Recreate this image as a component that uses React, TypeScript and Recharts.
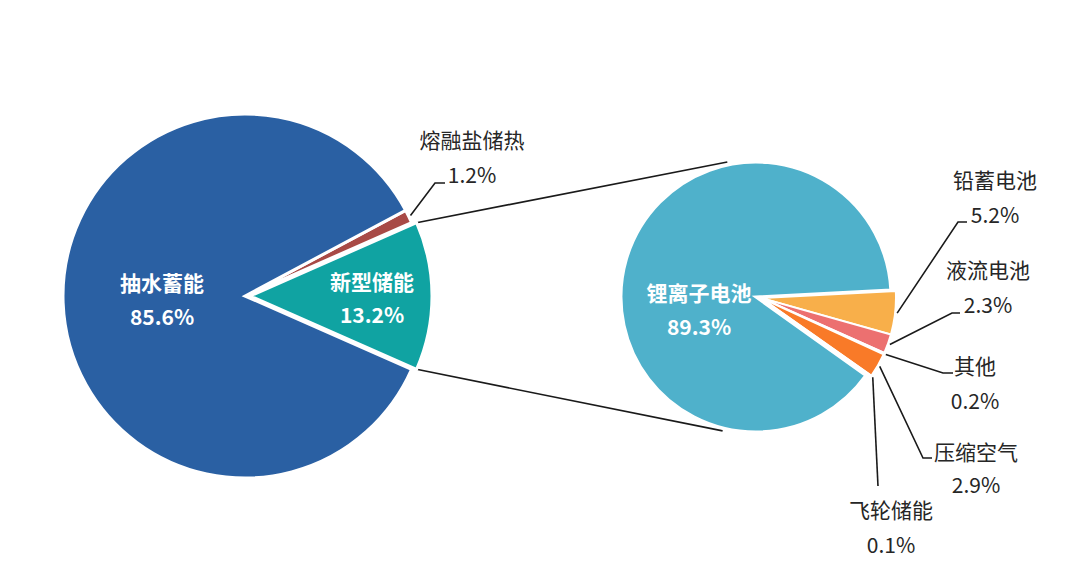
import { PieChart, Pie, Cell, Customized } from "recharts"

// left pie: storage types
const mainNames = ["新型储能", "熔融盐储热", "抽水蓄能"]
const mainValues = [13.2, 1.2, 85.6]
const mainColors = ["#10A3A2", "#A84A46", "#2A60A3"]

// right pie: breakdown of 新型储能
const subNames = ["铅蓄电池", "液流电池", "其他", "压缩空气", "飞轮储能", "锂离子电池"]
const subValues = [5.2, 2.3, 0.2, 2.9, 0.1, 89.3]
const subColors = ["#F8AF4A", "#EC7070", "#E85A4F", "#F97A28", "#F26B2A", "#4FB1CB"]

const mainData = mainNames.map((name, i) => ({ name, value: mainValues[i] }))
const subData = subNames.map((name, i) => ({ name, value: subValues[i] }))

const L = { cx: 245, cy: 296, r: 182 }
const R = { cx: 756, cy: 297, r: 135 }
const EXPLODE_L = { dx: 5, dy: 0 }
const EXPLODE_R = { dx: 5, dy: 1 }

const LEFT_START = -(mainValues[0] / 100) * 180
const RIGHT_START = 3

const TEXT = "#262626"
const FONT = "'Noto Sans CJK SC', 'Noto Sans', sans-serif"

// label layout, offsets relative to the pie centre
type Outside = { elbow: [number, number]; end: [number, number]; tx: number; ny: number; py: number }
type Inside = { tx: number; ny: number; py: number }

const outsideLayout: Record<string, Outside> = {
  "熔融盐储热": { elbow: [190, -113], end: [200, -113], tx: 227, ny: -148, py: -113 },
  "铅蓄电池": { elbow: [197, -76], end: [206, -76], tx: 234, ny: -110, py: -75 },
  "液流电池": { elbow: [191, 15], end: [199, 15], tx: 227, ny: -20, py: 15 },
  "其他": { elbow: [182, 75], end: [192, 75], tx: 214, ny: 76, py: 111 },
  "压缩空气": { elbow: [162, 160], end: [171, 160], tx: 215, ny: 162, py: 195 },
  "飞轮储能": { elbow: [117, 188], end: [117, 188], tx: 130, ny: 220, py: 255 },
}

const insideLayout: Record<string, Inside> = {
  "抽水蓄能": { tx: -83, ny: -5, py: 29 },
  "新型储能": { tx: 122, ny: -6, py: 27 },
  "锂离子电池": { tx: -57, ny: 4, py: 38 },
}

const RAD = Math.PI / 180

function makeLabel(names: string[], values: number[], show: (name: string) => boolean) {
  return (props: any) => {
    const name = names[props.index]
    if (!show(name)) return null
    const value = values[props.index]
    const cx = props.cx
    const cy = props.cy
    const pct = `${value.toFixed(1)}%`
    const ins = insideLayout[name]
    if (ins) {
      return (
        <g>
          <text x={cx + ins.tx} y={cy + ins.ny} textAnchor="middle" fill="#fff" fontSize={21} fontWeight="bold" fontFamily={FONT}>
            {name}
          </text>
          <text x={cx + ins.tx} y={cy + ins.py} textAnchor="middle" fill="#fff" fontSize={21} fontWeight="bold" fontFamily={FONT}>
            {pct}
          </text>
        </g>
      )
    }
    const o = outsideLayout[name]
    if (!o) return null
    const r = props.outerRadius + 2
    const sx = cx + r * Math.cos(-props.midAngle * RAD)
    const sy = cy + r * Math.sin(-props.midAngle * RAD)
    return (
      <g>
        <polyline
          points={`${sx},${sy} ${cx + o.elbow[0]},${cy + o.elbow[1]} ${cx + o.end[0]},${cy + o.end[1]}`}
          fill="none"
          stroke="#1a1a1a"
          strokeWidth={1.6}
        />
        <text x={cx + o.tx} y={cy + o.ny} textAnchor="middle" fill={TEXT} fontSize={21} fontFamily={FONT}>
          {name}
        </text>
        <text x={cx + o.tx} y={cy + o.py} textAnchor="middle" fill={TEXT} fontSize={21} fontFamily={FONT}>
          {pct}
        </text>
      </g>
    )
  }
}

function Connectors() {
  const a = (mainValues[0] / 100) * 180 * RAD
  const lx = L.cx + EXPLODE_L.dx + L.r * Math.cos(a)
  const top = [R.cx + (R.r + 3) * Math.cos(102 * RAD), R.cy - (R.r + 3) * Math.sin(102 * RAD)]
  const bot = [R.cx + (R.r + 3) * Math.cos(-104 * RAD), R.cy - (R.r + 3) * Math.sin(-104 * RAD)]
  return (
    <g>
      <line x1={lx} y1={L.cy - L.r * Math.sin(a)} x2={top[0]} y2={top[1]} stroke="#1a1a1a" strokeWidth={1.6} />
      <line x1={lx} y1={L.cy + L.r * Math.sin(a)} x2={bot[0]} y2={bot[1]} stroke="#1a1a1a" strokeWidth={1.6} />
    </g>
  )
}

const smallSub = (n: string) => n !== "锂离子电池"

export default function App() {
  return (
    <div style={{ position: "fixed", top: 0, left: 0, width: 1080, height: 565, background: "#fff" }}>
      <PieChart width={1080} height={565} margin={{ top: 0, right: 0, bottom: 0, left: 0 }}>
        <Customized component={Connectors} />
        <Pie
          data={mainData}
          dataKey="value"
          nameKey="name"
          cx={L.cx}
          cy={L.cy}
          outerRadius={L.r}
          startAngle={LEFT_START}
          endAngle={LEFT_START + 360}
          isAnimationActive={false}
          labelLine={false}
          label={makeLabel(mainNames, mainValues, (n) => n !== "新型储能")}
        >
          {mainNames.map((n, i) =>
            n === "新型储能" ? (
              <Cell key={n} fill="none" stroke="none" />
            ) : (
              <Cell key={n} fill={mainColors[i]} stroke="#fff" strokeWidth={3} />
            )
          )}
        </Pie>
        <Pie
          data={mainData}
          dataKey="value"
          nameKey="name"
          cx={L.cx + EXPLODE_L.dx}
          cy={L.cy + EXPLODE_L.dy}
          outerRadius={L.r}
          startAngle={LEFT_START}
          endAngle={LEFT_START + 360}
          isAnimationActive={false}
          labelLine={false}
          label={makeLabel(mainNames, mainValues, (n) => n === "新型储能")}
        >
          {mainNames.map((n, i) =>
            n === "新型储能" ? (
              <Cell key={n} fill={mainColors[i]} stroke="#fff" strokeWidth={3} />
            ) : (
              <Cell key={n} fill="none" stroke="none" />
            )
          )}
        </Pie>
        <Pie
          data={subData}
          dataKey="value"
          nameKey="name"
          cx={R.cx}
          cy={R.cy}
          outerRadius={R.r}
          startAngle={RIGHT_START}
          endAngle={RIGHT_START - 360}
          isAnimationActive={false}
          labelLine={false}
          label={makeLabel(subNames, subValues, (n) => !smallSub(n))}
        >
          {subNames.map((n, i) =>
            smallSub(n) ? (
              <Cell key={n} fill="none" stroke="none" />
            ) : (
              <Cell key={n} fill={subColors[i]} stroke="#fff" strokeWidth={3} />
            )
          )}
        </Pie>
        <Pie
          data={subData}
          dataKey="value"
          nameKey="name"
          cx={R.cx + EXPLODE_R.dx}
          cy={R.cy + EXPLODE_R.dy}
          outerRadius={R.r}
          startAngle={RIGHT_START}
          endAngle={RIGHT_START - 360}
          isAnimationActive={false}
          labelLine={false}
          label={makeLabel(subNames, subValues, smallSub)}
        >
          {subNames.map((n, i) =>
            smallSub(n) ? (
              <Cell key={n} fill={subColors[i]} stroke="#fff" strokeWidth={2} />
            ) : (
              <Cell key={n} fill="none" stroke="none" />
            )
          )}
        </Pie>
      </PieChart>
    </div>
  )
}
